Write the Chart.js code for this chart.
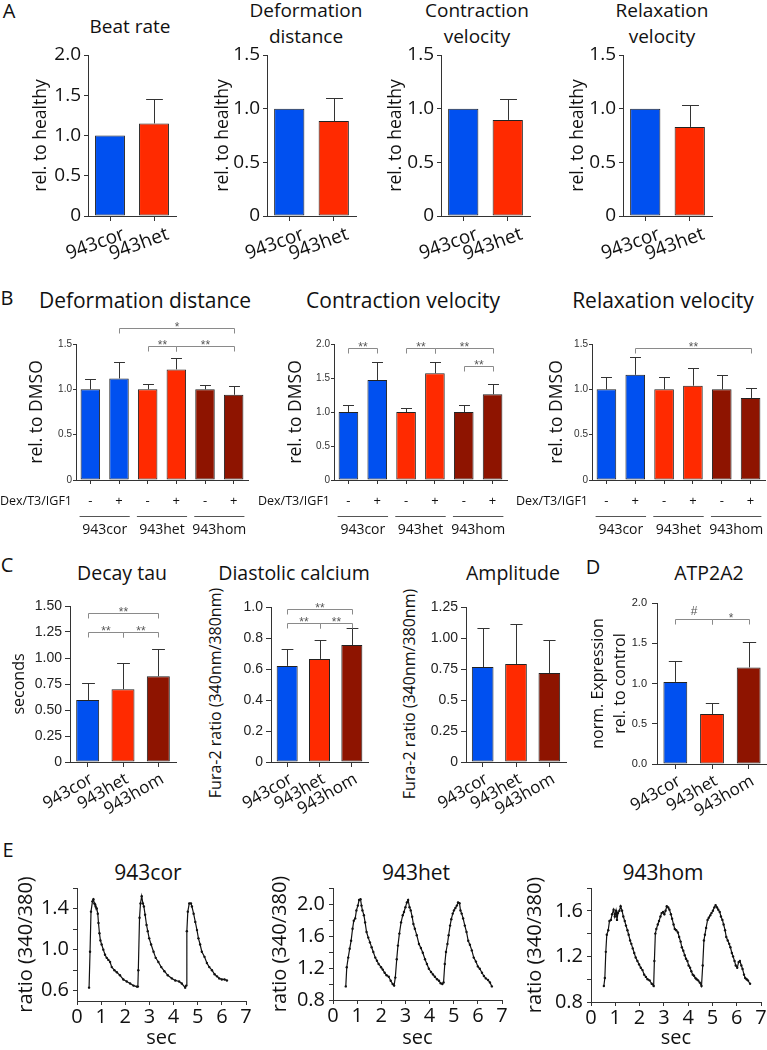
<!DOCTYPE html>
<html>
<head>
<meta charset="utf-8">
<script src="https://cdn.jsdelivr.net/npm/chart.js@4.4.1/dist/chart.umd.min.js"></script>
<style>
  html, body { margin: 0; padding: 0; background: #fff; }
  #fig { position: relative; width: 767px; height: 1050px; overflow: hidden; }
  #fig canvas { position: absolute; }
  .t { position: absolute; transform: translate(-50%, -50%); white-space: nowrap;
       font-family: 'Open Sans', sans-serif; color: #111; text-align: center; line-height: 26px; }
  .yt { position: absolute; transform: translate(-50%, -50%) rotate(-90deg); white-space: nowrap;
        font-family: 'Open Sans', sans-serif; color: #111; font-size: 16px; line-height: 1; }
  .p { position: absolute; transform: translate(-50%, -50%); font-family: 'Open Sans', sans-serif;
       font-size: 20px; color: #111; }
</style>
</head>
<body>
<div id="fig">
  <div class="p" style="left:9px;top:10px">A</div>
  <div class="p" style="left:7px;top:297px">B</div>
  <div class="p" style="left:7px;top:564px">C</div>
  <div class="p" style="left:593px;top:566px">D</div>
  <div class="p" style="left:8px;top:849px">E</div>

  <div class="t" style="left:130px;top:26px;font-size:19px">Beat rate</div>
  <div class="t" style="left:306px;top:23px;font-size:19px">Deformation<br>distance</div>
  <div class="t" style="left:477px;top:23px;font-size:19px">Contraction<br>velocity</div>
  <div class="t" style="left:662px;top:23px;font-size:19px">Relaxation<br>velocity</div>

  <div class="t" style="left:145px;top:300px;font-size:21px">Deformation distance</div>
  <div class="t" style="left:403px;top:300px;font-size:21px">Contraction velocity</div>
  <div class="t" style="left:663px;top:300px;font-size:21px">Relaxation velocity</div>

  <div class="t" style="left:122px;top:573px;font-size:19.5px">Decay tau</div>
  <div class="t" style="left:294px;top:573px;font-size:19.5px">Diastolic calcium</div>
  <div class="t" style="left:513px;top:573px;font-size:19.5px">Amplitude</div>
  <div class="t" style="left:709px;top:573px;font-size:19.5px">ATP2A2</div>

  <div class="yt" style="left:215px;top:693px">Fura-2 ratio (340nm/380nm)</div>
  <div class="yt" style="left:409px;top:694px">Fura-2 ratio (340nm/380nm)</div>

  <div class="t" style="left:148px;top:872px;font-size:21px">943cor</div>
  <div class="t" style="left:416px;top:872px;font-size:21px">943het</div>
  <div class="t" style="left:663px;top:872px;font-size:21px">943hom</div>
</div>

<script>
/* ---------- globals ---------- */
Chart.defaults.font.family = "'Open Sans', sans-serif";
Chart.defaults.color = '#111';

const BLUE = '#0050f0', RED = '#ff2a00', DARK = '#8e1400';
const AXIS = '#333';
const ARIAL = "'Liberation Sans', Arial, sans-serif";

/* ---------- panel A data ---------- */
const linesA = ['943cor', '943het'];
const colorsA = [BLUE, RED];
const beatRate = [1.0, 1.15];
const beatRateSd = [0, 0.30];
const deformA = [1.0, 0.885];
const deformASd = [0, 0.215];
const contractA = [1.0, 0.895];
const contractASd = [0, 0.195];
const relaxA = [1.0, 0.83];
const relaxASd = [0, 0.205];
const ticksA2 = [0, 0.5, 1, 1.5, 2];
const tickLabelsA2 = ['0', '0.5', '1.0', '1.5', '2.0'];
const ticksA15 = [0, 0.5, 1, 1.5];
const tickLabelsA15 = ['0', '0.5', '1.0', '1.5'];

/* ---------- panel B data ---------- */
const treatment = ['-', '+', '-', '+', '-', '+'];
const treatmentLabel = 'Dex/T3/IGF1';
const lines3 = ['943cor', '943het', '943hom'];
const colorsB = [BLUE, BLUE, RED, RED, DARK, DARK];
const deformB = [1.0, 1.12, 1.0, 1.22, 1.0, 0.94];
const deformBSd = [0.11, 0.18, 0.06, 0.125, 0.05, 0.095];
const contractB = [1.0, 1.47, 1.0, 1.57, 1.0, 1.26];
const contractBSd = [0.10, 0.265, 0.06, 0.165, 0.10, 0.15];
const relaxB = [1.0, 1.16, 1.0, 1.04, 1.0, 0.905];
const relaxBSd = [0.135, 0.20, 0.14, 0.195, 0.16, 0.11];
const deformBSig = [[1, 5, 1.68, '*'], [2, 3, 1.48, '**'], [3, 5, 1.48, '**']];
const contractBSig = [[0, 1, 1.94, '**'], [2, 3, 1.94, '**'], [3, 5, 1.94, '**'], [4, 5, 1.68, '**']];
const relaxBSig = [[1, 5, 1.455, '**']];
const ticksB15 = [0, 0.5, 1, 1.5];
const tickLabelsB15 = ['0', '0.5', '1.0', '1.5'];
const ticksB2 = [0, 0.5, 1, 1.5, 2];
const tickLabelsB2 = ['0', '0.5', '1.0', '1.5', '2.0'];

/* ---------- panel C / D data ---------- */
const colors3 = [BLUE, RED, DARK];
const decayTau = [0.595, 0.70, 0.825];
const decayTauSd = [0.165, 0.25, 0.26];
const decaySig = [[0, 2, 1.43, '**'], [0, 1, 1.25, '**'], [1, 2, 1.25, '**']];
const ticksTau = [0, 0.25, 0.5, 0.75, 1, 1.25, 1.5];
const tickLabelsTau = ['0', '0.25', '0.50', '0.75', '1.00', '1.25', '1.50'];

const diastolic = [0.62, 0.665, 0.755];
const diastolicSd = [0.11, 0.125, 0.11];
const diastolicSig = [[0, 2, 0.99, '**'], [0, 1, 0.90, '**'], [1, 2, 0.90, '**']];
const ticksDia = [0, 0.2, 0.4, 0.6, 0.8, 1.0];
const tickLabelsDia = ['0', '0.2', '0.4', '0.6', '0.8', '1.0'];

const amplitude = [0.766, 0.79, 0.718];
const amplitudeSd = [0.314, 0.32, 0.267];
const ticksAmp = [0, 0.25, 0.5, 0.75, 1, 1.25];
const tickLabelsAmp = ['0', '0.25', '0.5', '0.75', '1.00', '1.25'];

const atp2a2 = [1.02, 0.62, 1.20];
const atp2a2Sd = [0.26, 0.14, 0.31];
const atpSig = [[0, 1, 1.8, '#'], [1, 2, 1.8, '*']];
const ticksAtp = [0, 0.5, 1, 1.5, 2];
const tickLabelsAtp = ['0.0', '0.5', '1.0', '1.5', '2.0'];

/* ---------- panel E data (calcium transients) ---------- */
const secTicks = [0, 1, 2, 3, 4, 5, 6, 7];

const corTime = [0.50,0.54,0.58,0.64,0.68,0.72,0.75,0.77,0.82,0.86,0.89,0.93,0.97,1.02,1.09,1.16,1.23,1.30,1.37,1.44,
  1.55,1.65,1.78,1.92,2.06,2.20,2.34,2.48,2.52,2.54,2.59,2.63,2.68,2.73,2.77,2.82,2.88,2.93,2.99,3.07,
  3.17,3.26,3.37,3.49,3.62,3.76,3.93,4.07,4.23,4.34,4.48,4.52,4.55,4.59,4.65,4.72,4.76,4.83,4.90,4.97,
  5.03,5.10,5.17,5.28,5.38,5.48,5.59,5.70,5.80,5.89,6.00,6.11,6.21];
const corRatio = [0.63,0.98,1.37,1.47,1.49,1.45,1.44,1.42,1.40,1.35,1.26,1.16,1.09,1.05,1.00,0.95,0.92,0.90,0.88,0.83,
  0.80,0.78,0.75,0.71,0.69,0.67,0.65,0.64,0.64,0.80,1.31,1.45,1.52,1.45,1.42,1.34,1.24,1.18,1.11,1.05,
  0.98,0.92,0.88,0.83,0.79,0.75,0.72,0.70,0.69,0.67,0.63,0.65,1.18,1.37,1.45,1.45,1.42,1.35,1.27,1.19,
  1.11,1.05,0.98,0.93,0.87,0.83,0.80,0.76,0.74,0.72,0.71,0.71,0.70];
const corTicks = [0.6, 0.8, 1.0, 1.2, 1.4, 1.6];
const corTickLabels = ['0.6', '', '1.0', '', '1.4', ''];

const hetTime = [0.53,0.57,0.63,0.69,0.75,0.81,0.86,0.92,0.97,1.03,1.08,1.14,1.18,1.22,1.28,1.33,1.39,1.46,1.53,1.60,
  1.67,1.75,1.82,1.89,1.99,2.06,2.14,2.22,2.31,2.39,2.47,2.53,2.58,2.64,2.69,2.75,2.82,2.89,2.94,3.00,
  3.06,3.11,3.17,3.22,3.28,3.33,3.39,3.47,3.56,3.64,3.72,3.81,3.89,3.97,4.06,4.14,4.22,4.31,4.39,4.46,
  4.53,4.58,4.63,4.68,4.74,4.79,4.85,4.90,4.96,5.01,5.07,5.13,5.18,5.24,5.28,5.33,5.39,5.46,5.53,5.60,
  5.67,5.75,5.83,5.92,6.00,6.08,6.17,6.25,6.33,6.42,6.50,6.58];
const hetRatio = [0.97,1.21,1.33,1.44,1.54,1.69,1.79,1.82,1.92,1.98,2.05,2.06,1.98,1.92,1.86,1.77,1.65,1.58,1.52,1.46,
  1.40,1.33,1.29,1.25,1.21,1.18,1.14,1.11,1.09,1.04,1.00,0.98,1.08,1.31,1.48,1.63,1.77,1.86,1.90,1.96,
  2.02,2.05,1.96,1.92,1.84,1.75,1.69,1.61,1.50,1.45,1.39,1.31,1.25,1.19,1.15,1.12,1.09,1.06,1.04,1.01,
  1.00,1.02,1.25,1.40,1.50,1.61,1.73,1.81,1.88,1.92,1.95,1.98,2.02,2.01,1.92,1.88,1.82,1.73,1.65,1.54,
  1.49,1.42,1.33,1.28,1.22,1.19,1.14,1.10,1.07,1.05,1.02,0.97];
const hetTicks = [0.8, 1.0, 1.2, 1.4, 1.6, 1.8, 2.0, 2.2];
const hetTickLabels = ['0.8', '', '1.2', '', '1.6', '', '2.0', ''];

const homTime = [0.53,0.57,0.61,0.65,0.71,0.76,0.82,0.87,0.93,0.98,1.03,1.07,1.11,1.17,1.22,1.28,1.33,1.39,1.44,1.50,
  1.55,1.61,1.66,1.72,1.78,1.84,1.91,1.98,2.05,2.12,2.19,2.26,2.33,2.41,2.50,2.58,2.61,2.65,2.69,2.75,
  2.80,2.86,2.91,2.97,3.02,3.07,3.12,3.18,3.23,3.29,3.34,3.40,3.45,3.51,3.58,3.63,3.69,3.74,3.80,3.86,
  3.91,3.97,4.02,4.08,4.13,4.19,4.24,4.30,4.35,4.41,4.48,4.55,4.60,4.65,4.69,4.74,4.80,4.85,4.91,4.96,
  5.02,5.08,5.13,5.19,5.24,5.30,5.35,5.41,5.46,5.52,5.57,5.63,5.69,5.74,5.80,5.85,5.91,5.96,6.02,6.08,
  6.13,6.19,6.24,6.30,6.35,6.41,6.46,6.55];
const homRatio = [0.94,1.01,1.24,1.39,1.43,1.51,1.52,1.57,1.61,1.55,1.60,1.52,1.58,1.60,1.64,1.60,1.55,1.51,1.47,1.43,
  1.39,1.34,1.31,1.27,1.23,1.19,1.16,1.13,1.10,1.08,1.04,1.02,1.00,0.99,0.96,0.94,1.16,1.40,1.44,1.48,
  1.51,1.55,1.58,1.59,1.57,1.60,1.64,1.63,1.61,1.57,1.53,1.48,1.44,1.43,1.41,1.37,1.33,1.28,1.25,1.21,
  1.18,1.16,1.12,1.10,1.07,1.04,1.03,1.01,1.00,0.99,0.97,0.94,1.12,1.34,1.39,1.45,1.52,1.54,1.56,1.58,
  1.60,1.63,1.65,1.63,1.61,1.59,1.55,1.52,1.48,1.43,1.37,1.34,1.31,1.28,1.23,1.20,1.16,1.12,1.10,1.15,
  1.16,1.12,1.09,1.04,1.01,1.00,0.99,0.96];
const homTicks = [0.8, 1.0, 1.2, 1.4, 1.6, 1.8];
const homTickLabels = ['0.8', '', '1.2', '', '1.6', ''];

/* ---------- plugins ---------- */
const extras = {};

const errorBars = {
  id: 'errorBars',
  afterDatasetsDraw(chart) {
    const ex = extras[chart.canvas.id];
    if (!ex || !ex.sd) return;
    const ctx = chart.ctx, ys = chart.scales.y;
    const vals = chart.data.datasets[0].data;
    ctx.save();
    ctx.strokeStyle = AXIS;
    ctx.lineWidth = 1;
    chart.getDatasetMeta(0).data.forEach((bar, i) => {
      const sd = ex.sd[i];
      if (!sd) return;
      const x = Math.round(bar.x) + 0.5;
      const top = Math.round(ys.getPixelForValue(vals[i] + sd)) + 0.5;
      const cap = bar.width * 0.28;
      ctx.beginPath();
      ctx.moveTo(x, bar.y);
      ctx.lineTo(x, top);
      ctx.moveTo(x - cap, top);
      ctx.lineTo(x + cap, top);
      ctx.stroke();
    });
    ctx.restore();
  }
};

const brackets = {
  id: 'brackets',
  afterDraw(chart) {
    const ex = extras[chart.canvas.id];
    if (!ex || !ex.sig) return;
    const ctx = chart.ctx, xs = chart.scales.x, ys = chart.scales.y;
    ctx.save();
    ctx.strokeStyle = '#8a8a8a';
    ctx.fillStyle = '#555';
    ctx.lineWidth = 1;
    ctx.font = '12px ' + ARIAL;
    ctx.textAlign = 'center';
    ex.sig.forEach(([from, to, val, label]) => {
      const x1 = Math.round(xs.getPixelForValue(from)) + 0.5;
      const x2 = Math.round(xs.getPixelForValue(to)) + 0.5;
      const y = Math.round(ys.getPixelForValue(val)) + 0.5;
      ctx.beginPath();
      ctx.moveTo(x1, y + 5);
      ctx.lineTo(x1, y);
      ctx.lineTo(x2, y);
      ctx.lineTo(x2, y + 5);
      ctx.stroke();
      ctx.fillText(label, (x1 + x2) / 2, label === '#' ? y - 5 : y + 2);
    });
    ctx.restore();
  }
};

const groupRow = {
  id: 'groupRow',
  afterDraw(chart) {
    const ex = extras[chart.canvas.id];
    if (!ex || !ex.groups) return;
    const ctx = chart.ctx, xs = chart.scales.x, a = chart.chartArea;
    const hw = chart.getDatasetMeta(0).data[0].width / 2 + 1;
    ctx.save();
    ctx.fillStyle = '#111';
    ctx.strokeStyle = '#555';
    ctx.lineWidth = 1;
    ctx.textBaseline = 'middle';
    ctx.font = "12.5px 'Open Sans', sans-serif";
    ctx.textAlign = 'right';
    ctx.fillText(treatmentLabel, a.left - 4, a.bottom + 21);
    ctx.font = "14px 'Open Sans', sans-serif";
    ctx.textAlign = 'center';
    ex.groups.forEach((g, i) => {
      const x1 = xs.getPixelForValue(2 * i) - hw;
      const x2 = xs.getPixelForValue(2 * i + 1) + hw;
      const y = Math.round(a.bottom + 36) + 0.5;
      ctx.beginPath();
      ctx.moveTo(x1, y);
      ctx.lineTo(x2, y);
      ctx.stroke();
      ctx.fillText(g, (x1 + x2) / 2, a.bottom + 50);
    });
    ctx.restore();
  }
};

Chart.register(errorBars, brackets, groupRow);

/* ---------- helpers ---------- */
function makeCanvas(id, box) {
  const c = document.createElement('canvas');
  c.id = id;
  c.width = box.w;
  c.height = box.h;
  c.style.left = box.x + 'px';
  c.style.top = box.y + 'px';
  c.style.width = box.w + 'px';
  c.style.height = box.h + 'px';
  document.getElementById('fig').appendChild(c);
  return c;
}

function yAxis(o, box, area) {
  const tf = o.yTitleFont || { size: 16 };
  const lh = tf.lineHeight || 1.2;
  return {
    min: o.min !== undefined ? o.min : o.ticks[0],
    max: o.max !== undefined ? o.max : o.ticks[o.ticks.length - 1],
    afterBuildTicks: s => { s.ticks = o.ticks.map(v => ({ value: v })); },
    afterFit: s => { s.width = area.l - box.x; },
    border: { display: true, color: AXIS, width: 1 },
    grid: { display: true, drawOnChartArea: false, drawTicks: true, tickLength: o.tickLen, color: AXIS, lineWidth: 1 },
    ticks: { font: o.tickFont, color: o.tickColor || '#111', padding: o.tickPad, autoSkip: false,
             callback: (v, i) => o.tickLabels[i] },
    title: { display: !!o.yTitle, text: o.yTitle || '', color: '#111', font: tf,
             padding: { top: (o.yTitleX || 0) - box.x - tf.size * lh / 2, bottom: 0 } }
  };
}

function barChart(id, box, area, o) {
  const canvas = makeCanvas(id, box);
  extras[id] = { sd: o.sd, sig: o.sig, groups: o.groups };
  new Chart(canvas, {
    type: 'bar',
    data: {
      labels: o.labels,
      datasets: [{
        data: o.values,
        backgroundColor: o.colors,
        borderColor: '#222',
        borderWidth: 1,
        borderSkipped: false,
        categoryPercentage: 1,
        barPercentage: o.barPct,
      }]
    },
    options: {
      responsive: false,
      animation: false,
      events: [],
      layout: { padding: { left: 0, top: area.t - box.y, right: box.x + box.w - area.r, bottom: 0 } },
      plugins: { legend: { display: false }, tooltip: { enabled: false } },
      scales: {
        x: {
          offset: true,
          afterFit: s => { s.height = box.y + box.h - area.b; },
          border: { display: true, color: AXIS, width: 1 },
          grid: { display: true, offset: false, drawOnChartArea: false, drawTicks: true, tickLength: o.xTickLen, color: AXIS },
          ticks: { font: o.xFont, color: '#111', padding: o.xPad, autoSkip: false,
                   minRotation: o.rot, maxRotation: o.rot, labelOffset: o.labelOffset || 0 }
        },
        y: yAxis(o, box, area)
      }
    }
  });
}

function traceChart(id, box, area, o) {
  const canvas = makeCanvas(id, box);
  new Chart(canvas, {
    type: 'line',
    data: {
      datasets: [{
        data: o.time.map((t, i) => ({ x: t, y: o.ratio[i] })),
        borderColor: '#111',
        borderWidth: 1.2,
        pointRadius: 1.2,
        pointBackgroundColor: '#111',
        pointBorderWidth: 0,
        tension: 0,
        fill: false,
      }]
    },
    options: {
      responsive: false,
      animation: false,
      events: [],
      layout: { padding: { left: 0, top: area.t - box.y, right: box.x + box.w - area.r, bottom: 0 } },
      plugins: { legend: { display: false }, tooltip: { enabled: false } },
      scales: {
        x: {
          type: 'linear', min: 0, max: 7,
          afterBuildTicks: s => { s.ticks = secTicks.map(v => ({ value: v })); },
          afterFit: s => { s.height = box.y + box.h - area.b; },
          border: { display: true, color: AXIS, width: 1 },
          grid: { display: true, drawOnChartArea: false, drawTicks: true, tickLength: 4, color: AXIS },
          ticks: { font: { size: 20 }, color: '#111', padding: 0, autoSkip: false, maxRotation: 0 },
          title: { display: true, text: 'sec', color: '#111', font: { size: 20 },
                   padding: { top: 0, bottom: box.y + box.h - 1038 - 12 } }
        },
        y: yAxis(o, box, area)
      }
    }
  });
}

/* ---------- panel A ---------- */
const optA = {
  labels: linesA, colors: colorsA, barPct: 0.68,
  tickFont: { size: 19 }, tickLen: 4, tickPad: 3,
  xFont: { size: 19 }, xTickLen: 5, xPad: 2, rot: 20, labelOffset: 14,
  yTitle: 'rel. to healthy', yTitleFont: { size: 17.5 }
};
barChart('a1', { x: 20, y: 38, w: 164, h: 227 }, { l: 88, t: 55, r: 176, b: 216 },
  { ...optA, values: beatRate, sd: beatRateSd, ticks: ticksA2, tickLabels: tickLabelsA2, yTitleX: 41 });
barChart('a2', { x: 200, y: 38, w: 164, h: 227 }, { l: 267, t: 55, r: 356, b: 216 },
  { ...optA, values: deformA, sd: deformASd, ticks: ticksA15, tickLabels: tickLabelsA15, yTitleX: 223 });
barChart('a3', { x: 374, y: 38, w: 164, h: 227 }, { l: 441, t: 55, r: 530, b: 216 },
  { ...optA, values: contractA, sd: contractASd, ticks: ticksA15, tickLabels: tickLabelsA15, yTitleX: 396 });
barChart('a4', { x: 556, y: 38, w: 164, h: 227 }, { l: 623, t: 55, r: 712, b: 216 },
  { ...optA, values: relaxA, sd: relaxASd, ticks: ticksA15, tickLabels: tickLabelsA15, yTitleX: 578 });

/* ---------- panel B ---------- */
const optB = {
  labels: treatment, colors: colorsB, barPct: 0.68, groups: lines3,
  tickFont: { size: 10, family: ARIAL }, tickColor: '#333', tickLen: 3, tickPad: 1,
  xFont: { size: 13 }, xTickLen: 4, xPad: 9, rot: 0,
  yTitle: 'rel. to DMSO', yTitleFont: { size: 17.5 }
};
barChart('b1', { x: 0, y: 305, w: 252, h: 240 }, { l: 76, t: 344, r: 248, b: 480 },
  { ...optB, values: deformB, sd: deformBSd, sig: deformBSig, ticks: ticksB15, tickLabels: tickLabelsB15, yTitleX: 37 });
barChart('b2', { x: 250, y: 305, w: 262, h: 240 }, { l: 334, t: 344, r: 507, b: 480 },
  { ...optB, values: contractB, sd: contractBSd, sig: contractBSig, ticks: ticksB2, tickLabels: tickLabelsB2, yTitleX: 296 });
barChart('b3', { x: 505, y: 305, w: 262, h: 240 }, { l: 592, t: 344, r: 765, b: 480 },
  { ...optB, values: relaxB, sd: relaxBSd, sig: relaxBSig, ticks: ticksB15, tickLabels: tickLabelsB15, yTitleX: 557 });

/* ---------- panel C / D ---------- */
const optC = {
  labels: lines3, colors: colors3, barPct: 0.65,
  tickFont: { size: 14, family: ARIAL }, tickColor: '#222', tickLen: 5, tickPad: 3,
  xFont: { size: 17 }, xTickLen: 5, xPad: 2, rot: 30, labelOffset: 4,
  yTitleFont: { size: 16 }
};
barChart('c1', { x: 0, y: 575, w: 182, h: 255 }, { l: 70, t: 606, r: 176, b: 762 },
  { ...optC, values: decayTau, sd: decayTauSd, sig: decaySig, ticks: ticksTau, tickLabels: tickLabelsTau,
    yTitle: 'seconds', yTitleX: 19 });
// the Fura-2 axis titles of C2/C3 are placed as text in the page (they sit lower than the axis centre)
barChart('c2', { x: 232, y: 570, w: 142, h: 260 }, { l: 268, t: 607, r: 368, b: 762 },
  { ...optC, values: diastolic, sd: diastolicSd, sig: diastolicSig, ticks: ticksDia, tickLabels: tickLabelsDia });
barChart('c3', { x: 426, y: 570, w: 146, h: 260 }, { l: 466, t: 607, r: 566, b: 762 },
  { ...optC, values: amplitude, sd: amplitudeSd, ticks: ticksAmp, tickLabels: tickLabelsAmp });
barChart('d1', { x: 578, y: 580, w: 189, h: 250 }, { l: 657, t: 603, r: 767, b: 764 },
  { ...optC, values: atp2a2, sd: atp2a2Sd, sig: atpSig, ticks: ticksAtp, tickLabels: tickLabelsAtp,
    tickFont: { size: 11, family: ARIAL }, tickPad: 5,
    yTitle: ['norm. Expression', 'rel. to control'], yTitleFont: { size: 16, lineHeight: 1.375 }, yTitleX: 598 });

/* ---------- panel E ---------- */
const optE = {
  tickFont: { size: 20 }, tickLen: 4, tickPad: 4,
  yTitle: 'ratio (340/380)', yTitleFont: { size: 20 }
};
traceChart('e1', { x: 0, y: 864, w: 258, h: 186 }, { l: 77, t: 888, r: 246, b: 1001 },
  { ...optE, time: corTime, ratio: corRatio, min: 0.5, max: 1.6, ticks: corTicks, tickLabels: corTickLabels, yTitleX: 26 });
traceChart('e2', { x: 258, y: 864, w: 256, h: 186 }, { l: 333, t: 888, r: 502, b: 1000 },
  { ...optE, time: hetTime, ratio: hetRatio, min: 0.8, max: 2.2, ticks: hetTicks, tickLabels: hetTickLabels, yTitleX: 280 });
traceChart('e3', { x: 516, y: 864, w: 262, h: 186 }, { l: 591, t: 888, r: 761, b: 1002 },
  { ...optE, time: homTime, ratio: homRatio, min: 0.8, max: 1.8, ticks: homTicks, tickLabels: homTickLabels, yTitleX: 535 });
</script>
</body>
</html>
